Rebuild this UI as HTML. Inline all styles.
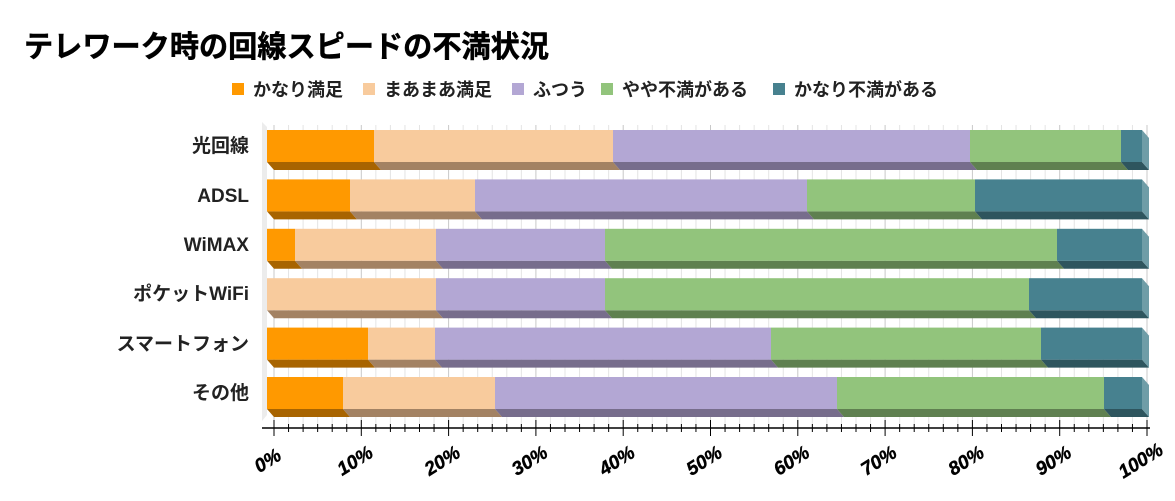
<!DOCTYPE html>
<html><head><meta charset="utf-8"><style>
body{margin:0;background:#fff;}
svg{display:block;font-family:"Liberation Sans","Noto Sans CJK JP",sans-serif;}
</style></head><body>
<svg width="1175" height="501" xmlns="http://www.w3.org/2000/svg">
<text x="24" y="57" font-size="30" font-weight="bold" fill="#000" stroke="#000" stroke-width="0.5" textLength="525" lengthAdjust="spacingAndGlyphs">テレワーク時の回線スピードの不満状況</text>
<g font-size="18" font-weight="bold" fill="#222">
<rect x="232" y="83" width="12" height="12" fill="#FF9900"/><text x="253" y="96">かなり満足</text>
<rect x="363" y="83" width="12" height="12" fill="#F8CB9D"/><text x="384" y="96">まあまあ満足</text>
<rect x="512" y="83" width="12" height="12" fill="#B3A7D4"/><text x="533" y="96">ふつう</text>
<rect x="601" y="83" width="12" height="12" fill="#92C47C"/><text x="622" y="96">やや不満がある</text>
<rect x="773" y="83" width="12" height="12" fill="#47818F"/><text x="794" y="96">かなり不満がある</text>
</g>
<polygon points="262,122 267,127 267,415 262,421" fill="#ececec"/>
<g id="grid" stroke="#d8d8d8" stroke-width="1"></g>
<g id="bars"></g>
<line x1="262" y1="428" x2="1150" y2="428" stroke="#000" stroke-width="1.5"/>
<g id="ticks" stroke="#000"></g>
<g font-size="19" font-weight="bold" font-style="italic" fill="#000" id="xl"></g>
<g font-size="19" font-weight="bold" fill="#222" text-anchor="end">
<text x="249" y="152">光回線</text>
<text x="249" y="202">ADSL</text>
<text x="249" y="251">WiMAX</text>
<text x="249" y="300">ポケットWiFi</text>
<text x="249" y="350">スマートフォン</text>
<text x="249" y="399">その他</text>
</g>
<script>
var ns="http://www.w3.org/2000/svg";
function el(p,t,a){var e=document.createElementNS(ns,t);for(var k in a)e.setAttribute(k,a[k]);p.appendChild(e);return e;}
var g=document.getElementById('grid'),tk=document.getElementById('ticks'),xl=document.getElementById('xl');
var x0=274,step=87.3;
for(var i=0;i<=60;i++){var x=x0+i*step/6;
 el(g,'line',{x1:x,y1:125,x2:x,y2:428,stroke:(i%6==0)?'#c8c8c8':'#e4e4e4'});
 el(tk,'line',{x1:x,y1:(i%6==0)?420:424,x2:x,y2:(i%6==0)?436:432});}
for(var i=0;i<=10;i++){var x=x0+i*step-3,y=466;var t=el(xl,'text',{x:x,y:y,transform:'rotate(-32 '+x+' '+y+')','text-anchor':'middle',stroke:'#000','stroke-width':'0.4'});t.textContent=(i*10)+'%';}
var cols=['#FF9900','#F8CB9D','#B3A7D4','#92C47C','#47818F'];
var dark=['#A86400','#A38263','#776D8C','#5F8050','#2E555E'];
var rows=[[267,374,613,970,1121,1142],[267,350,475,807,975,1142],[267,295,436,605,1057,1142],[267,267,436,605,1029,1142],[267,368,435,771,1041,1142],[267,343,495,837,1104,1142]];
var b=document.getElementById('bars');
rows.forEach(function(r,j){var y=130+j*49.4,h=32,d=7,dy=8;
 for(var k=0;k<5;k++){if(r[k+1]<=r[k])continue;
  el(b,'polygon',{points:r[k]+','+(y+h)+' '+r[k+1]+','+(y+h)+' '+(r[k+1]+d)+','+(y+h+dy)+' '+(r[k]+d)+','+(y+h+dy),fill:dark[k]});
  el(b,'rect',{x:r[k],y:y,width:r[k+1]-r[k],height:h,fill:cols[k]});}
 el(b,'polygon',{points:'1142,'+y+' 1149,'+(y+dy)+' 1149,'+(y+h+dy)+' 1142,'+(y+h),fill:'#6F9DA7'});
});
</script>
</svg>
</body></html>
